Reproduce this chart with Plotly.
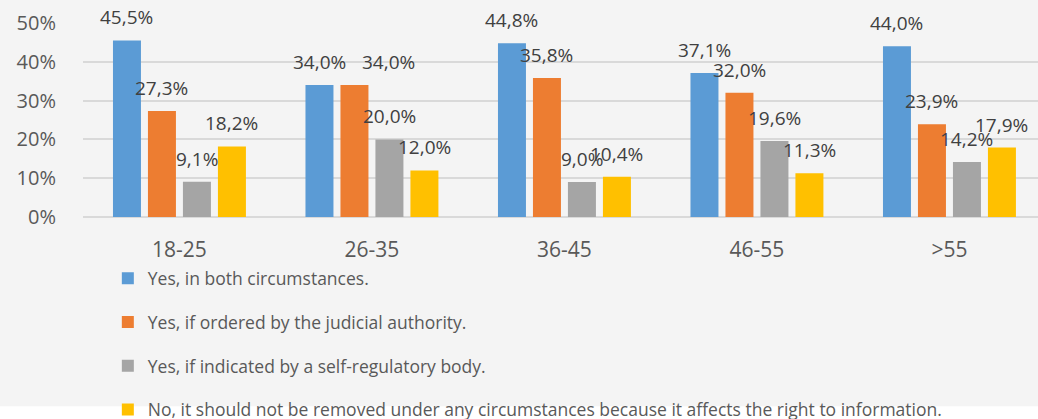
import plotly.graph_objects as go

categories = ["18-25", "26-35", "36-45", "46-55", ">55"]
series_names = [
    "Yes, in both circumstances.",
    "Yes, if ordered by the judicial authority.",
    "Yes, if indicated by a self-regulatory body.",
    "No, it should not be removed under any circumstances because it affects the right to information.",
]
both = [45.5, 34.0, 44.8, 37.1, 44.0]
judicial = [27.3, 34.0, 35.8, 32.0, 23.9]
selfreg = [9.1, 20.0, 9.0, 19.6, 14.2]
never = [18.2, 12.0, 10.4, 11.3, 17.9]
y_ticks = [0, 10, 20, 30, 40, 50]

colors = ["#5B9BD5", "#ED7D31", "#A5A5A5", "#FFC000"]
all_series = [both, judicial, selfreg, never]

# manual label nudges (pixels), as in the original chart
label_nudge = {(1, "26-35"): 34}

FONT = "Open Sans, Noto Sans, DejaVu Sans, sans-serif"

fig = go.Figure()
annotations = []
for j, (name, vals, col) in enumerate(zip(series_names, all_series, colors)):
    fig.add_trace(go.Bar(
        x=categories, y=vals, name=name, marker_color=col,
        marker_line_width=0, legendgroup=f"g{j}",
    ))
    for c, v in zip(categories, vals):
        annotations.append(dict(
            x=c, y=v, xref="x", yref="y",
            text=f"{v:.1f}".replace(".", ",") + "%",
            showarrow=False,
            xshift=(j - 1.5) * 35 + label_nudge.get((j, c), 0), yshift=23,
            yanchor="middle", xanchor="center",
            font=dict(family=FONT, size=19, color="#404040"),
        ))

fig.update_layout(
    width=1038, height=419,
    margin=dict(l=83, r=0, t=23, b=202, autoexpand=False),
    paper_bgcolor="white",
    plot_bgcolor="rgba(0,0,0,0)",
    barmode="group", bargap=0.273, bargroupgap=0.2,
    annotations=annotations,
    shapes=[dict(type="rect", xref="paper", yref="paper",
                 x0=-0.2, x1=1.2, y0=-0.976, y1=1.2,
                 fillcolor="#F4F4F4", line_width=0, layer="below")],
    legend=dict(
        orientation="v", x=0.026, xanchor="left", y=-0.224, yanchor="top",
        font=dict(family=FONT, size=17.5, color="#595959"),
        bgcolor="rgba(0,0,0,0)", tracegroupgap=18,
        itemclick=False, itemdoubleclick=False,
    ),
    font=dict(family=FONT, color="#595959"),
)
fig.update_xaxes(
    range=[-0.501, 4.46], showgrid=False, showline=False, zeroline=False,
    tickfont=dict(family=FONT, size=21, color="#595959"),
    ticklabelstandoff=18, fixedrange=True,
)
fig.update_yaxes(
    range=[0, 50], tickvals=y_ticks, ticktext=[f"{t}%" for t in y_ticks],
    showgrid=True, gridcolor="#D9D9D9", gridwidth=1.5,
    zeroline=True, zerolinecolor="#D9D9D9", zerolinewidth=1.5,
    tickfont=dict(family=FONT, size=20, color="#595959"),
    ticklabelstandoff=26, fixedrange=True,
)

fig.write_html("out.html", post_script="document.body.style.margin='0';",
               config={"displayModeBar": False})
